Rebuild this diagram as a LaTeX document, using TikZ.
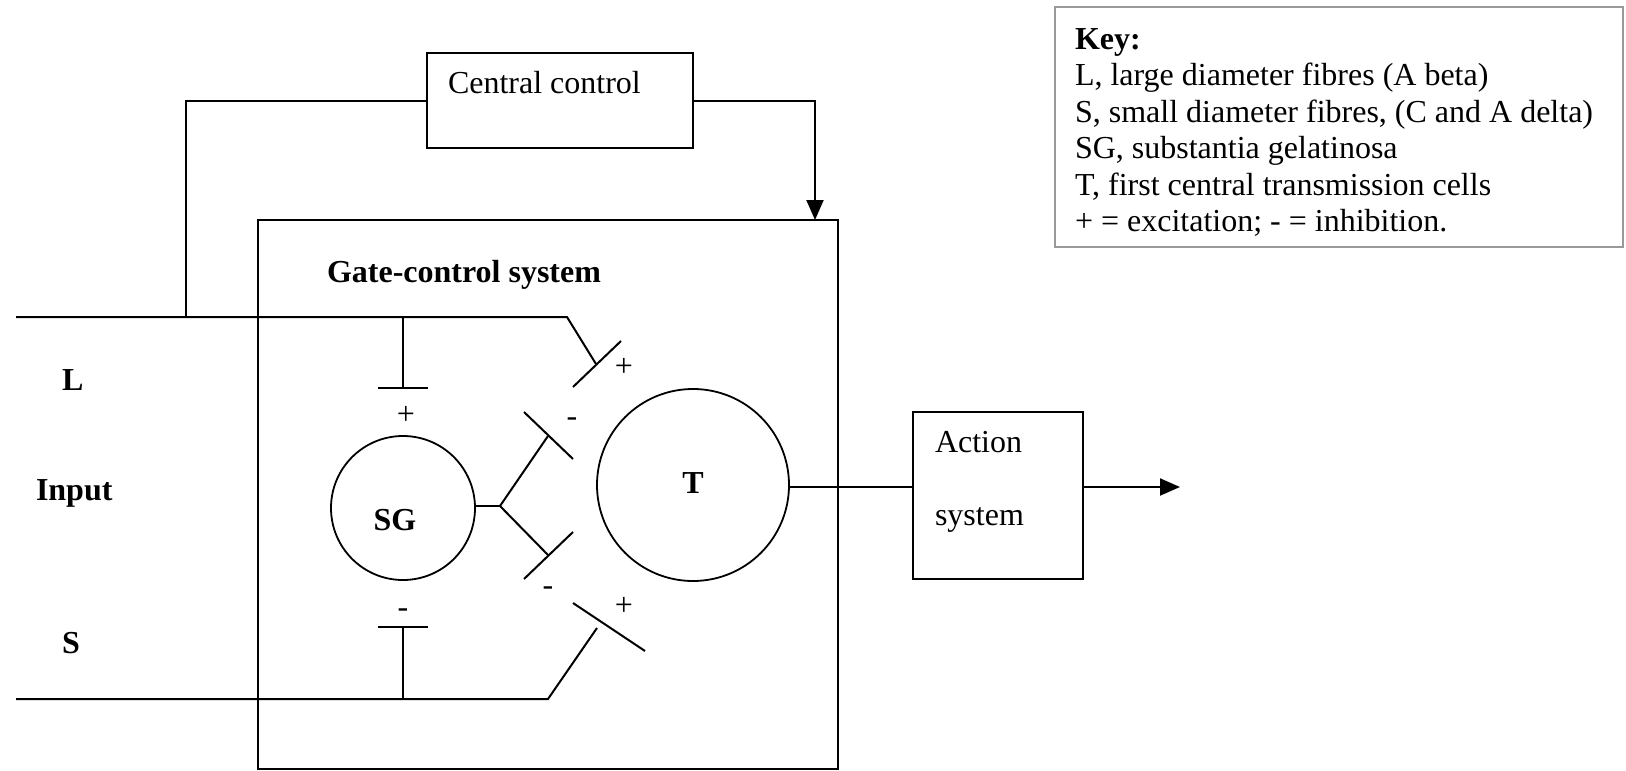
\documentclass[tikz,border=0pt]{standalone}
\usepackage{fontspec}
\setmainfont{Liberation Serif}
\usetikzlibrary{arrows.meta}

\tikzset{
  wire/.style={line width=2pt, black},
  frame/.style={draw, line width=2pt, inner sep=0pt, outer sep=0pt},
  cell/.style={draw, circle, line width=1.8pt, inner sep=0pt, outer sep=0pt},
  txt/.style={inner sep=0pt, outer sep=0pt, anchor=base west, font=\fontsize{32}{36.5}\selectfont},
  btxt/.style={txt, font=\fontsize{32}{36.5}\selectfont\bfseries},
  sign/.style={inner sep=0pt, outer sep=0pt, anchor=base, font=\fontsize{32}{36.5}\selectfont},
  fwd/.style={wire, -{Triangle[length=20pt, width=17pt]}},
}

\begin{document}
\begin{tikzpicture}[x=1pt, y=-1pt]
  \useasboundingbox (0,0) rectangle (1626,771);
  \fill[white] (0,0) rectangle (1626,771);

  % boxes
  \node[frame, minimum width=266pt, minimum height=95pt] (cc) at (560,100.5) {};
  \node[txt] (cctext) at (448,93) {Central control};

  \node[frame, minimum width=580pt, minimum height=549pt] (gate) at (548,494.5) {};
  \node[btxt] (gatetext) at (327,282) {Gate-control system};

  \node[frame, minimum width=170pt, minimum height=167pt] (act) at (998,495.5) {};
  \node[txt] (acttext1) at (935,452) {Action};
  \node[txt] (acttext2) at (935,525) {system};

  % cells
  \node[cell, minimum size=144pt] (SG) at (403,508) {};
  \node[btxt, anchor=base] (sgtext) at (395,530) {SG};
  \node[cell, minimum size=192pt] (T) at (693,485) {};
  \node[btxt, anchor=base] (ttext) at (693,493) {T};

  % input labels
  \node[btxt] (Llab) at (62,390) {L};
  \node[btxt] (inlab) at (36,500) {Input};
  \node[btxt] (Slab) at (62,653) {S};

  % key
  \node[draw=black!40, line width=2pt, minimum width=568pt, minimum height=240pt, inner sep=0pt] (key) at (1339,127) {};
  \node[btxt] (k0) at (1075,49) {Key:};
  \node[txt] (k1) at (1075,85.5) {L, large diameter fibres (A beta)};
  \node[txt] (k2) at (1075,122) {S, small diameter fibres, (C and A delta)};
  \node[txt] (k3) at (1075,158.5) {SG, substantia gelatinosa};
  \node[txt] (k4) at (1075,195) {T, first central transmission cells};
  \node[txt] (k5) at (1075,231.5) {+ = excitation; - = inhibition.};

  % connection points
  \coordinate (Lstart) at (16,317);
  \coordinate (jL) at (186,317);
  \coordinate (Lb) at (403,317);
  \coordinate (Lbend) at (403,388);
  \coordinate (Lend) at (567,317);
  \coordinate (Lsyn) at (596,364);
  \coordinate (gin) at (815,220);
  \coordinate (fork) at (500,506);
  \coordinate (up) at (548,436);
  \coordinate (dn) at (548,555);
  \coordinate (Sstart) at (16,699);
  \coordinate (Sb) at (403,699);
  \coordinate (Sbend) at (403,627);
  \coordinate (Send) at (548,699);
  \coordinate (Ssyn) at (597,628);
  \coordinate (out) at (1180,487);

  % central control loop
  \draw[wire] (cc.west) -| (jL);
  \draw[fwd] (cc.east) -| (gin);

  % L fibre
  \draw[wire] (Lstart) -- (Lend) -- (Lsyn);
  \draw[wire] (573,387) -- (621,341);
  \draw[wire] (Lb) -- (Lbend);
  \draw[wire] (378,388) -- (428,388);

  % SG output fork
  \draw[wire] (SG.east |- fork) -- (fork);
  \draw[wire] (fork) -- (up);
  \draw[wire] (524,412) -- (573,459);
  \draw[wire] (fork) -- (dn);
  \draw[wire] (524,579) -- (573,532);

  % S fibre
  \draw[wire] (Sstart) -- (Send) -- (Ssyn);
  \draw[wire] (573,603) -- (645,651);
  \draw[wire] (Sb) -- (Sbend);
  \draw[wire] (378,627) -- (428,627);

  % T to action system and output
  \draw[wire] (T.east |- out) -- (act.west |- out);
  \draw[fwd] (act.east |- out) -- (out);

  % signs
  \node[sign] (s1) at (406,424) {+};
  \node[sign] (s2) at (572,426) {-};
  \node[sign] (s3) at (548,595) {-};
  \node[sign] (s4) at (403,617) {-};
  \node[sign] (s5) at (624,615) {+};
  \node[sign] (s6) at (624,376) {+};
\end{tikzpicture}
\end{document}
